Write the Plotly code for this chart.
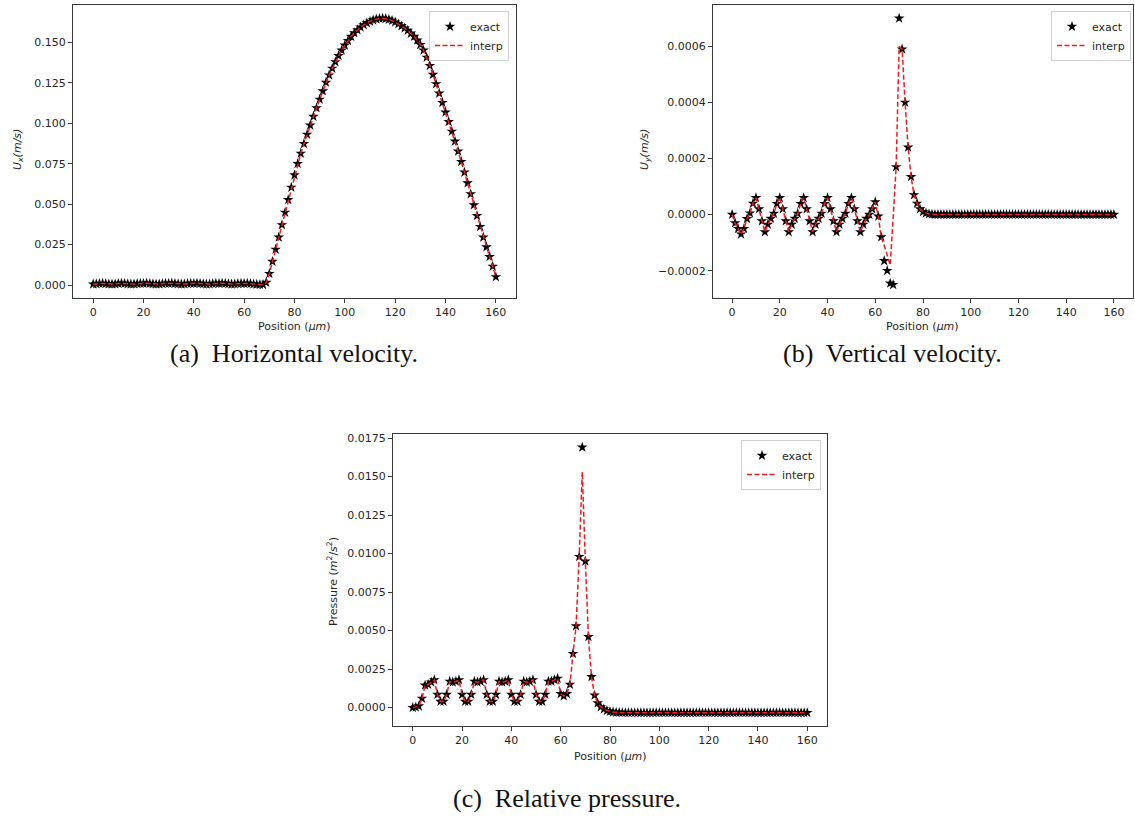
import plotly.graph_objects as go

# ---------------- data ----------------
position = [0.0, 1.25, 2.5, 3.75, 5.0, 6.25, 7.5, 8.75, 10.0, 11.25, 12.5, 13.75, 15.0, 16.25, 17.5, 18.75,
            20.0, 21.25, 22.5, 23.75, 25.0, 26.25, 27.5, 28.75, 30.0, 31.25, 32.5, 33.75, 35.0, 36.25, 37.5, 38.75,
            40.0, 41.25, 42.5, 43.75, 45.0, 46.25, 47.5, 48.75, 50.0, 51.25, 52.5, 53.75, 55.0, 56.25, 57.5, 58.75,
            60.0, 61.25, 62.5, 63.75, 65.0, 66.25, 67.5, 68.75, 70.0, 71.25, 72.5, 73.75, 75.0, 76.25, 77.5, 78.75,
            80.0, 81.25, 82.5, 83.75, 85.0, 86.25, 87.5, 88.75, 90.0, 91.25, 92.5, 93.75, 95.0, 96.25, 97.5, 98.75,
            100.0, 101.25, 102.5, 103.75, 105.0, 106.25, 107.5, 108.75, 110.0, 111.25, 112.5, 113.75, 115.0, 116.25, 117.5, 118.75,
            120.0, 121.25, 122.5, 123.75, 125.0, 126.25, 127.5, 128.75, 130.0, 131.25, 132.5, 133.75, 135.0, 136.25, 137.5, 138.75,
            140.0, 141.25, 142.5, 143.75, 145.0, 146.25, 147.5, 148.75, 150.0, 151.25, 152.5, 153.75, 155.0, 156.25, 157.5, 158.75,
            160.0]

ux_exact = [0.0005, 0.0007, 0.0009, 0.0010, 0.0008, 0.0006, 0.0005, 0.0006,
            0.0009, 0.0011, 0.0009, 0.0007, 0.0005, 0.0006, 0.0008, 0.0010,
            0.0009, 0.0011, 0.0009, 0.0007, 0.0005, 0.0006, 0.0008, 0.0010,
            0.0009, 0.0011, 0.0009, 0.0007, 0.0005, 0.0006, 0.0008, 0.0010,
            0.0009, 0.0011, 0.0009, 0.0007, 0.0005, 0.0006, 0.0008, 0.0010,
            0.0009, 0.0011, 0.0009, 0.0007, 0.0005, 0.0006, 0.0008, 0.0010,
            0.0009, 0.0010, 0.0008, 0.0006, 0.0004, 0.0003, 0.0002, 0.0015,
            0.0070, 0.0145, 0.0220, 0.0295, 0.0372, 0.0449, 0.0527, 0.0604,
            0.0680, 0.0751, 0.0814, 0.0874, 0.0932, 0.0988, 0.1042, 0.1095,
            0.1148, 0.1200, 0.1253, 0.1298, 0.1340, 0.1380, 0.1418, 0.1452,
            0.1483, 0.1512, 0.1537, 0.1559, 0.1578, 0.1595, 0.1609, 0.1621,
            0.1631, 0.1639, 0.1645, 0.1649, 0.1650, 0.1648, 0.1643, 0.1636,
            0.1626, 0.1615, 0.1602, 0.1589, 0.1575, 0.1557, 0.1537, 0.1514,
            0.1487, 0.1452, 0.1408, 0.1357, 0.1302, 0.1244, 0.1186, 0.1128,
            0.1069, 0.1010, 0.0950, 0.0889, 0.0827, 0.0763, 0.0697, 0.0631,
            0.0563, 0.0495, 0.0428, 0.0361, 0.0295, 0.0235, 0.0175, 0.0115,
            0.0050]

ux_interp = [0.0005, 0.0007, 0.0009, 0.0010, 0.0008, 0.0006, 0.0005, 0.0006,
             0.0009, 0.0011, 0.0009, 0.0007, 0.0005, 0.0006, 0.0008, 0.0010,
             0.0009, 0.0011, 0.0009, 0.0007, 0.0005, 0.0006, 0.0008, 0.0010,
             0.0009, 0.0011, 0.0009, 0.0007, 0.0005, 0.0006, 0.0008, 0.0010,
             0.0009, 0.0011, 0.0009, 0.0007, 0.0005, 0.0006, 0.0008, 0.0010,
             0.0009, 0.0011, 0.0009, 0.0007, 0.0005, 0.0006, 0.0008, 0.0010,
             0.0009, 0.0010, 0.0008, 0.0006, 0.0004, 0.0003, 0.0002, 0.0015,
             0.0070, 0.0145, 0.0220, 0.0295, 0.0372, 0.0449, 0.0527, 0.0604,
             0.0680, 0.0751, 0.0814, 0.0874, 0.0932, 0.0988, 0.1042, 0.1095,
             0.1148, 0.1200, 0.1253, 0.1298, 0.1340, 0.1380, 0.1418, 0.1452,
             0.1483, 0.1512, 0.1537, 0.1559, 0.1578, 0.1595, 0.1609, 0.1621,
             0.1631, 0.1639, 0.1645, 0.1649, 0.1650, 0.1648, 0.1643, 0.1636,
             0.1626, 0.1615, 0.1602, 0.1589, 0.1575, 0.1557, 0.1537, 0.1514,
             0.1487, 0.1452, 0.1408, 0.1357, 0.1302, 0.1244, 0.1186, 0.1128,
             0.1069, 0.1010, 0.0950, 0.0889, 0.0827, 0.0763, 0.0697, 0.0631,
             0.0563, 0.0495, 0.0428, 0.0361, 0.0295, 0.0235, 0.0175, 0.0115,
             0.0050]

uy_exact = [0.0, -0.00003, -0.00005, -0.00007, -0.00005, -0.000015, 0.000005, 0.00004,
            0.00006, 0.00002, -0.000023, -0.000062, -0.000035, -0.000014, 0.000004, 0.000039,
            0.00006, 0.00002, -0.000023, -0.000062, -0.000035, -0.000014, 0.000004, 0.000039,
            0.00006, 0.00002, -0.000023, -0.000062, -0.000035, -0.000014, 0.000004, 0.000039,
            0.00006, 0.00002, -0.000023, -0.000062, -0.000035, -0.000014, 0.000004, 0.000039,
            0.00006, 0.00002, -0.000023, -0.000062, -0.000035, -0.000014, 0.0, 0.00002,
            0.000045, -0.000006, -0.00008, -0.000165, -0.0002, -0.000245, -0.00025, 0.00017,
            0.0007, 0.00059, 0.0004, 0.00024, 0.000135, 0.00007, 0.00004, 0.00002,
            0.00001, 0.000005, 0.000002, 0.000001, 0.0, 0.0, 0.0, 0.0,
            0.0, 0.0, 0.0, 0.0, 0.0, 0.0, 0.0, 0.0,
            0.0, 0.0, 0.0, 0.0, 0.0, 0.0, 0.0, 0.0,
            0.0, 0.0, 0.0, 0.0, 0.0, 0.0, 0.0, 0.0,
            0.0, 0.0, 0.0, 0.0, 0.0, 0.0, 0.0, 0.0,
            0.0, 0.0, 0.0, 0.0, 0.0, 0.0, 0.0, 0.0,
            0.0, 0.0, 0.0, 0.0, 0.0, 0.0, 0.0, 0.0,
            0.0, 0.0, 0.0, 0.0, 0.0, 0.0, 0.0, 0.0,
            0.0]

uy_interp = [0.0, -0.00003, -0.00005, -0.00007, -0.00005, -0.000015, 0.000005, 0.00004,
             0.00006, 0.00002, -0.000023, -0.000062, -0.000035, -0.000014, 0.000004, 0.000039,
             0.00006, 0.00002, -0.000023, -0.000062, -0.000035, -0.000014, 0.000004, 0.000039,
             0.00006, 0.00002, -0.000023, -0.000062, -0.000035, -0.000014, 0.000004, 0.000039,
             0.00006, 0.00002, -0.000023, -0.000062, -0.000035, -0.000014, 0.000004, 0.000039,
             0.00006, 0.00002, -0.000023, -0.000062, -0.000035, -0.000014, 0.0, 0.00002,
             0.000045, -0.000006, -0.00008, -0.00011, -0.000145, -0.00018, -0.00001, 0.00017,
             0.0006, 0.00059, 0.0004, 0.00024, 0.000135, 0.00007, 0.00004, 0.00002,
             0.00001, 0.000005, 0.000002, 0.000001, 0.0, 0.0, 0.0, 0.0,
             0.0, 0.0, 0.0, 0.0, 0.0, 0.0, 0.0, 0.0,
             0.0, 0.0, 0.0, 0.0, 0.0, 0.0, 0.0, 0.0,
             0.0, 0.0, 0.0, 0.0, 0.0, 0.0, 0.0, 0.0,
             0.0, 0.0, 0.0, 0.0, 0.0, 0.0, 0.0, 0.0,
             0.0, 0.0, 0.0, 0.0, 0.0, 0.0, 0.0, 0.0,
             0.0, 0.0, 0.0, 0.0, 0.0, 0.0, 0.0, 0.0,
             0.0, 0.0, 0.0, 0.0, 0.0, 0.0, 0.0, 0.0,
             0.0]

p_exact = [0.0, 0.00003, 0.0001, 0.0006, 0.00145, 0.0015, 0.00165, 0.0018,
           0.00085, 0.0004, 0.0004, 0.00085, 0.0017, 0.00165, 0.0017, 0.0018,
           0.00085, 0.0004, 0.0004, 0.00085, 0.0017, 0.00165, 0.0017, 0.0018,
           0.00085, 0.0004, 0.0004, 0.00085, 0.0017, 0.00165, 0.0017, 0.0018,
           0.00085, 0.0004, 0.0004, 0.00085, 0.0017, 0.00165, 0.0017, 0.0018,
           0.00085, 0.0004, 0.0004, 0.00085, 0.0017, 0.0017, 0.0018, 0.0019,
           0.0009, 0.00075, 0.0009, 0.0015, 0.0035, 0.0053, 0.0098, 0.0169,
           0.0095, 0.0046, 0.002, 0.0008, 0.0003, 0.00005, -0.0001, -0.0002,
           -0.00025, -0.00029, -0.00031, -0.00032, -0.00033, -0.00033, -0.00033, -0.00033,
           -0.00033, -0.00033, -0.00033, -0.00033, -0.00033, -0.00033, -0.00033, -0.00033,
           -0.00033, -0.00033, -0.00033, -0.00033, -0.00033, -0.00033, -0.00033, -0.00033,
           -0.00033, -0.00033, -0.00033, -0.00033, -0.00033, -0.00033, -0.00033, -0.00033,
           -0.00033, -0.00033, -0.00033, -0.00033, -0.00033, -0.00033, -0.00033, -0.00033,
           -0.00033, -0.00033, -0.00033, -0.00033, -0.00033, -0.00033, -0.00033, -0.00033,
           -0.00033, -0.00033, -0.00033, -0.00033, -0.00033, -0.00033, -0.00033, -0.00033,
           -0.00033, -0.00033, -0.00033, -0.00033, -0.00033, -0.00033, -0.00033, -0.00033,
           -0.00033]

p_interp = [0.0, 0.00003, 0.0001, 0.0006, 0.00145, 0.0015, 0.00165, 0.0018,
            0.00085, 0.0004, 0.0004, 0.00085, 0.0017, 0.00165, 0.0017, 0.0018,
            0.00085, 0.0004, 0.0004, 0.00085, 0.0017, 0.00165, 0.0017, 0.0018,
            0.00085, 0.0004, 0.0004, 0.00085, 0.0017, 0.00165, 0.0017, 0.0018,
            0.00085, 0.0004, 0.0004, 0.00085, 0.0017, 0.00165, 0.0017, 0.0018,
            0.00085, 0.0004, 0.0004, 0.00085, 0.0017, 0.0017, 0.0018, 0.0019,
            0.0009, 0.00075, 0.0009, 0.0015, 0.0035, 0.0053, 0.0098, 0.0153,
            0.0095, 0.0046, 0.002, 0.0008, 0.0003, 0.00005, -0.0001, -0.0002,
            -0.00025, -0.00029, -0.00031, -0.00032, -0.00033, -0.00033, -0.00033, -0.00033,
            -0.00033, -0.00033, -0.00033, -0.00033, -0.00033, -0.00033, -0.00033, -0.00033,
            -0.00033, -0.00033, -0.00033, -0.00033, -0.00033, -0.00033, -0.00033, -0.00033,
            -0.00033, -0.00033, -0.00033, -0.00033, -0.00033, -0.00033, -0.00033, -0.00033,
            -0.00033, -0.00033, -0.00033, -0.00033, -0.00033, -0.00033, -0.00033, -0.00033,
            -0.00033, -0.00033, -0.00033, -0.00033, -0.00033, -0.00033, -0.00033, -0.00033,
            -0.00033, -0.00033, -0.00033, -0.00033, -0.00033, -0.00033, -0.00033, -0.00033,
            -0.00033, -0.00033, -0.00033, -0.00033, -0.00033, -0.00033, -0.00033, -0.00033,
            -0.00033]

x_tick_vals = [0, 20, 40, 60, 80, 100, 120, 140, 160]
ux_tick_vals = [0.0, 0.025, 0.05, 0.075, 0.1, 0.125, 0.15]
ux_tick_text = ["0.000", "0.025", "0.050", "0.075", "0.100", "0.125", "0.150"]
uy_tick_vals = [-0.0002, 0.0, 0.0002, 0.0004, 0.0006]
uy_tick_text = ["\u22120.0002", "0.0000", "0.0002", "0.0004", "0.0006"]
p_tick_vals = [0.0, 0.0025, 0.005, 0.0075, 0.01, 0.0125, 0.015, 0.0175]
p_tick_text = ["0.0000", "0.0025", "0.0050", "0.0075", "0.0100", "0.0125", "0.0150", "0.0175"]

legend_labels = ["exact", "interp"]
x_title = "Position (<i>\u03bcm</i>)"
y_titles = ["<i>U<sub>x</sub>(m/s)</i>", "<i>U<sub>y</sub>(m/s)</i>",
            "Pressure (<i>m</i><sup>2</sup>/<i>s</i><sup>2</sup>)"]
captions = ["(a)  Horizontal velocity.", "(b)  Vertical velocity.", "(c)  Relative pressure."]

# ---------------- layout helpers ----------------
W, H = 1135, 823
def px(x):
    return x / W
def py(y):
    return 1 - y / H

def pad_range(*series):
    lo = min(min(s) for s in series)
    hi = max(max(s) for s in series)
    pad = 0.05 * (hi - lo)
    return [lo - pad, hi + pad]

TICK_FONT = dict(family="DejaVu Sans", size=11, color="#262626")
LABEL_FONT = dict(family="DejaVu Sans", size=11, color="#262626")
CAP_FONT = dict(family="Liberation Serif", size=26, color="#111111")

fig = go.Figure()

panels = [
    ("x", "y", "legend", ux_exact, ux_interp),
    ("x2", "y2", "legend2", uy_exact, uy_interp),
    ("x3", "y3", "legend3", p_exact, p_interp),
]
for xa, ya, lg, ex, it in panels:
    fig.add_trace(go.Scatter(x=position, y=ex, mode="markers", name=legend_labels[0],
                             xaxis=xa, yaxis=ya, legend=lg,
                             marker=dict(symbol="star", size=8, color="black", line=dict(width=0))))
    fig.add_trace(go.Scatter(x=position, y=it, mode="lines", name=legend_labels[1],
                             xaxis=xa, yaxis=ya, legend=lg,
                             line=dict(color="#f21c1c", width=1.5, dash="5px,2.5px")))

axis_common = dict(showline=True, mirror=True, linecolor="#3a3a3a", linewidth=1,
                   ticks="outside", ticklen=4, tickwidth=1, tickcolor="#3a3a3a",
                   showgrid=False, zeroline=False, tickfont=TICK_FONT, automargin=False)

xr = pad_range(position)
fig.update_layout(
    width=W, height=H, margin=dict(l=0, r=0, t=0, b=0),
    paper_bgcolor="white", plot_bgcolor="white", showlegend=True,
    xaxis=dict(domain=[px(73), px(516)], anchor="y", range=xr, tickvals=x_tick_vals, **axis_common),
    yaxis=dict(domain=[py(298), py(5)], anchor="x", range=pad_range(ux_exact, ux_interp),
               tickvals=ux_tick_vals, ticktext=ux_tick_text, **axis_common),
    xaxis2=dict(domain=[px(713), px(1133)], anchor="y2", range=xr, tickvals=x_tick_vals, **axis_common),
    yaxis2=dict(domain=[py(298), py(5)], anchor="x2", range=pad_range(uy_exact, uy_interp),
                tickvals=uy_tick_vals, ticktext=uy_tick_text, **axis_common),
    xaxis3=dict(domain=[px(393), px(827)], anchor="y3", range=xr, tickvals=x_tick_vals, **axis_common),
    yaxis3=dict(domain=[py(726), py(434)], anchor="x3", range=pad_range(p_exact, p_interp),
                tickvals=p_tick_vals, ticktext=p_tick_text, **axis_common),
)

leg_common = dict(xanchor="right", yanchor="top", bgcolor="rgba(255,255,255,0.9)",
                  bordercolor="#d0d0d0", borderwidth=1, font=dict(family="DejaVu Sans", size=11, color="#262626"),
                  itemwidth=30, tracegroupgap=0)
fig.update_layout(
    legend=dict(x=px(509), y=py(11), **leg_common),
    legend2=dict(x=px(1131), y=py(11), **leg_common),
    legend3=dict(x=px(821), y=py(440), **leg_common),
)

ann = []
# x-axis titles
for cx, cy in [(294, 326), (922, 326), (610, 756)]:
    ann.append(dict(x=px(cx), y=py(cy), xref="paper", yref="paper", showarrow=False,
                    text=x_title, font=LABEL_FONT, xanchor="center", yanchor="middle"))
# y-axis titles
for (cx, cy), t in zip([(18, 150), (645, 150), (332, 582)], y_titles):
    ann.append(dict(x=px(cx), y=py(cy), xref="paper", yref="paper", showarrow=False, textangle=-90,
                    text=t, font=LABEL_FONT, xanchor="center", yanchor="middle"))
# captions
for (cx, cy), t in zip([(294, 354), (892, 354), (567, 798)], captions):
    ann.append(dict(x=px(cx), y=py(cy), xref="paper", yref="paper", showarrow=False,
                    text=t, font=CAP_FONT, xanchor="center", yanchor="middle"))
fig.update_layout(annotations=ann)

fig.write_html("out.html")
